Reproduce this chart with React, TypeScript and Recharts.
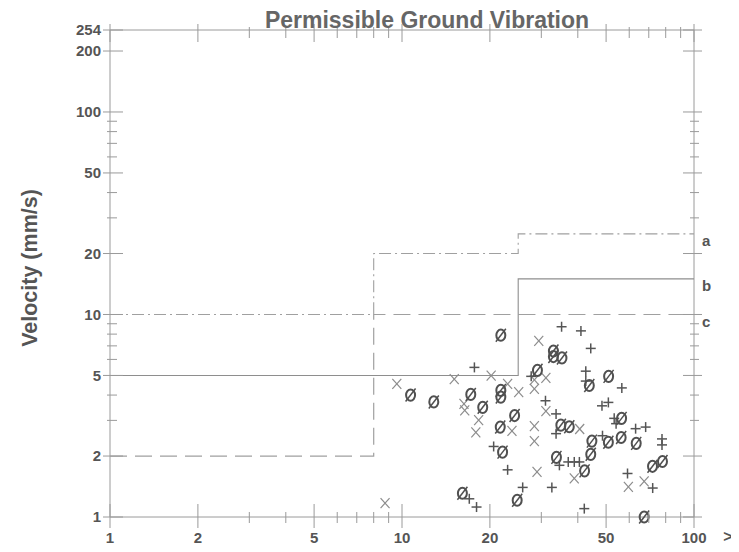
import React from 'react';
import { ComposedChart, Scatter, XAxis, YAxis } from 'recharts';

// ---- tick values ----
const xTicks = [1, 2, 3, 4, 5, 6, 7, 8, 9, 10, 20, 30, 40, 50, 60, 70, 80, 90, 100];
const xLabeled = [1, 2, 5, 10, 20, 50, 100];
const yTicks = [1, 2, 3, 4, 5, 6, 7, 8, 9, 10, 20, 30, 40, 50, 60, 70, 80, 90, 100, 200, 254];
const yLabeled = [1, 2, 5, 10, 20, 50, 100, 200, 254];

// ---- permissible limit lines (frequency Hz, velocity mm/s) ----
const lineA = [
  { x: 1, y: 10 }, { x: 8, y: 10 }, { x: 8, y: 20 }, { x: 25, y: 20 }, { x: 25, y: 25 }, { x: 100, y: 25 },
];
const lineB = [
  { x: 1, y: 5 }, { x: 25, y: 5 }, { x: 25, y: 15 }, { x: 100, y: 15 },
];
const lineC = [
  { x: 1, y: 2 }, { x: 8, y: 2 }, { x: 8, y: 10 }, { x: 100, y: 10 },
];

// ---- measured points: "Ø" markers ----
const slashedO = [
  { x: 21.8, y: 7.9 }, { x: 33, y: 6.6 }, { x: 33, y: 6.2 }, { x: 35.3, y: 6.1 },
  { x: 29.1, y: 5.3 }, { x: 51, y: 4.95 }, { x: 43.8, y: 4.46 }, { x: 10.7, y: 4.0 },
  { x: 12.85, y: 3.7 }, { x: 17.2, y: 4.03 }, { x: 18.9, y: 3.48 }, { x: 21.8, y: 4.22 },
  { x: 21.8, y: 3.91 }, { x: 24.3, y: 3.17 }, { x: 35, y: 2.84 }, { x: 37.4, y: 2.79 },
  { x: 56.5, y: 3.07 }, { x: 21.7, y: 2.78 }, { x: 22.1, y: 2.09 }, { x: 33.8, y: 1.97 },
  { x: 44.3, y: 2.04 }, { x: 42.2, y: 1.69 }, { x: 44.7, y: 2.37 }, { x: 50.9, y: 2.34 },
  { x: 56.3, y: 2.47 }, { x: 63.4, y: 2.31 }, { x: 72.1, y: 1.78 }, { x: 78, y: 1.88 },
  { x: 16.1, y: 1.31 }, { x: 24.8, y: 1.21 }, { x: 67.5, y: 1.0 },
];

// ---- measured points: "×" markers ----
const crosses = [
  { x: 29.4, y: 7.4 }, { x: 20.2, y: 4.99 }, { x: 15.1, y: 4.8 }, { x: 9.6, y: 4.54 },
  { x: 23, y: 4.54 }, { x: 25.1, y: 4.14 }, { x: 28.4, y: 4.75 }, { x: 28.4, y: 4.29 },
  { x: 31.1, y: 4.86 }, { x: 16.3, y: 3.62 }, { x: 16.4, y: 3.36 }, { x: 18.3, y: 3.01 },
  { x: 17.9, y: 2.62 }, { x: 23.8, y: 2.66 }, { x: 28.4, y: 2.81 }, { x: 28.4, y: 2.37 },
  { x: 40.6, y: 2.72 }, { x: 31.1, y: 3.33 }, { x: 29, y: 1.67 }, { x: 38.9, y: 1.55 },
  { x: 59.6, y: 1.41 }, { x: 67.5, y: 1.5 }, { x: 8.75, y: 1.17 },
];

// ---- measured points: "+" markers ----
const pluses = [
  { x: 35.2, y: 8.7 }, { x: 41, y: 8.3 }, { x: 44.3, y: 6.8 }, { x: 17.7, y: 5.48 },
  { x: 27.7, y: 4.95 }, { x: 42.6, y: 5.25 }, { x: 42.6, y: 4.69 }, { x: 56.6, y: 4.34 },
  { x: 31, y: 3.75 }, { x: 33.7, y: 3.23 }, { x: 48.4, y: 3.54 }, { x: 50.9, y: 3.68 },
  { x: 53.3, y: 3.07 }, { x: 54.1, y: 2.89 }, { x: 63.1, y: 2.73 }, { x: 68.3, y: 2.78 },
  { x: 33.7, y: 2.58 }, { x: 48.6, y: 2.52 }, { x: 77.7, y: 2.43 }, { x: 77.7, y: 2.27 },
  { x: 20.6, y: 2.23 }, { x: 34.6, y: 1.8 }, { x: 37.1, y: 1.87 }, { x: 38.9, y: 1.87 },
  { x: 40.5, y: 1.87 }, { x: 23, y: 1.71 }, { x: 59.2, y: 1.64 }, { x: 25.9, y: 1.4 },
  { x: 32.6, y: 1.4 }, { x: 72.2, y: 1.39 }, { x: 17, y: 1.23 }, { x: 18, y: 1.12 },
  { x: 42.1, y: 1.1 },
];

const W = 731;
const H = 544;
const MARGIN = { top: 0, right: 0, bottom: 0, left: 0 };
const TOP_H = 22;
const BOTTOM_H = 35;
const LEFT_W = 102;
const RIGHT_W = 45;
const PLOT_TOP = TOP_H;
const PLOT_RIGHT = W - RIGHT_W;
const AXIS = '#9a9a9a';
const TEXT = '#555555';
const FONT = '"Liberation Sans", Arial, sans-serif';

// bottom axis tick (also mirrors a tick onto the top frame line)
function BottomTick(props: any) {
  const { x, y, payload } = props;
  const v = payload.value;
  const major = xLabeled.includes(v);
  return (
    <g>
      <line x1={x} x2={x} y1={y - (major ? 13 : 5)} y2={y + (major ? 11 : 6)} stroke={AXIS} strokeWidth={1} />
      <line
        x1={x}
        x2={x}
        y1={PLOT_TOP - (major ? 6 : 3)}
        y2={PLOT_TOP + (major ? 12 : 8)}
        stroke={AXIS}
        strokeWidth={1}
      />
      {major && (
        <text x={x} y={y + 26} textAnchor="middle" fontSize={15} fontWeight="bold" fill={TEXT} fontFamily={FONT}>
          {v}
        </text>
      )}
    </g>
  );
}

// left axis tick (also mirrors a tick onto the right frame line)
function LeftTick(props: any) {
  const { x, y, payload } = props;
  const v = payload.value;
  const major = yLabeled.includes(v);
  return (
    <g>
      <line x1={x - (major ? 7 : 3)} x2={x + (major ? 13 : 7)} y1={y} y2={y} stroke={AXIS} strokeWidth={1} />
      <line
        x1={PLOT_RIGHT - (major ? 11 : 4)}
        x2={PLOT_RIGHT + (major ? 8 : 5)}
        y1={y}
        y2={y}
        stroke={AXIS}
        strokeWidth={1}
      />
      {major && (
        <text x={x - 9} y={y} dy="0.36em" textAnchor="end" fontSize={15} fontWeight="bold" fill={TEXT} fontFamily={FONT}>
          {v}
        </text>
      )}
    </g>
  );
}

const OShape = (p: any) => (
  <g>
    <ellipse cx={p.cx} cy={p.cy} rx={4.5} ry={5.6} fill="none" stroke="#505050" strokeWidth={2} />
    <line x1={p.cx - 5} y1={p.cy + 6.5} x2={p.cx + 5} y2={p.cy - 6.5} stroke="#505050" strokeWidth={1.5} />
  </g>
);

const XShape = (p: any) => (
  <g stroke="#8c8c8c" strokeWidth={1.2}>
    <line x1={p.cx - 4.5} y1={p.cy - 5} x2={p.cx + 4.5} y2={p.cy + 5} />
    <line x1={p.cx - 4.5} y1={p.cy + 5} x2={p.cx + 4.5} y2={p.cy - 5} />
  </g>
);

const PShape = (p: any) => (
  <g stroke="#555" strokeWidth={1.5}>
    <line x1={p.cx - 5} y1={p.cy} x2={p.cx + 5} y2={p.cy} />
    <line x1={p.cx} y1={p.cy - 5} x2={p.cx} y2={p.cy + 5} />
  </g>
);

const endLabel = (letter: string) => (p: any) => {
  const last = p.payload && p.payload.x === 100;
  if (!last) return <g />;
  return (
    <text x={p.cx + 8} y={p.cy + 7} dy="0.36em" fontSize={15} fontWeight="bold" fill={TEXT} fontFamily={FONT}>
      {letter}
    </text>
  );
};

export default function App() {
  return (
    <div style={{ position: 'relative', width: W, height: H, fontFamily: FONT }}>
      <ComposedChart width={W} height={H} margin={MARGIN}>
        <XAxis
          dataKey="x"
          type="number"
          scale="log"
          domain={[1, 100]}
          ticks={xTicks}
          interval={0}
          height={BOTTOM_H}
          tickSize={0}
          tickMargin={0}
          tickLine={false}
          axisLine={{ stroke: AXIS }}
          tick={<BottomTick />}
        />
        <XAxis
          xAxisId="top"
          orientation="top"
          type="number"
          scale="log"
          domain={[1, 100]}
          height={TOP_H}
          tickLine={false}
          axisLine={{ stroke: AXIS }}
          tick={false}
        />
        <YAxis
          dataKey="y"
          type="number"
          scale="log"
          domain={[1, 254]}
          ticks={yTicks}
          interval={0}
          width={LEFT_W}
          tickSize={0}
          tickMargin={0}
          tickLine={false}
          axisLine={{ stroke: AXIS }}
          tick={<LeftTick />}
        />
        <YAxis
          yAxisId="right"
          orientation="right"
          type="number"
          scale="log"
          domain={[1, 254]}
          width={RIGHT_W}
          tickLine={false}
          axisLine={{ stroke: AXIS }}
          tick={false}
        />
        <Scatter
          data={lineC}
          line={{ stroke: '#a0a0a0', strokeWidth: 1.2, strokeDasharray: '17 8' }}
          lineType="joint"
          shape={endLabel('c')}
          isAnimationActive={false}
        />
        <Scatter
          data={lineB}
          line={{ stroke: '#8e8e8e', strokeWidth: 1.1 }}
          lineType="joint"
          shape={endLabel('b')}
          isAnimationActive={false}
        />
        <Scatter
          data={lineA}
          line={{ stroke: '#a0a0a0', strokeWidth: 1.1, strokeDasharray: '12 4 2 4' }}
          lineType="joint"
          shape={endLabel('a')}
          isAnimationActive={false}
        />
        <Scatter data={crosses} shape={XShape} isAnimationActive={false} />
        <Scatter data={pluses} shape={PShape} isAnimationActive={false} />
        <Scatter data={slashedO} shape={OShape} isAnimationActive={false} />
      </ComposedChart>
      <div
        style={{
          position: 'absolute',
          left: 419,
          top: 12,
          transform: 'translate(-50%, -50%)',
          whiteSpace: 'nowrap',
          fontSize: 23,
          fontWeight: 'bold',
          color: '#666',
        }}
      >
        Permissible Ground Vibration
      </div>
      <div
        style={{
          position: 'absolute',
          left: 22,
          top: 260,
          transform: 'translate(-50%, -50%) rotate(-90deg)',
          whiteSpace: 'nowrap',
          fontSize: 21.5,
          fontWeight: 'bold',
          color: TEXT,
        }}
      >
        Velocity (mm/s)
      </div>
      <div
        style={{
          position: 'absolute',
          left: 720,
          top: 529,
          transform: 'translate(-50%, -50%)',
          fontSize: 16,
          fontWeight: 'bold',
          color: TEXT,
        }}
      >
        &gt;
      </div>
    </div>
  );
}
